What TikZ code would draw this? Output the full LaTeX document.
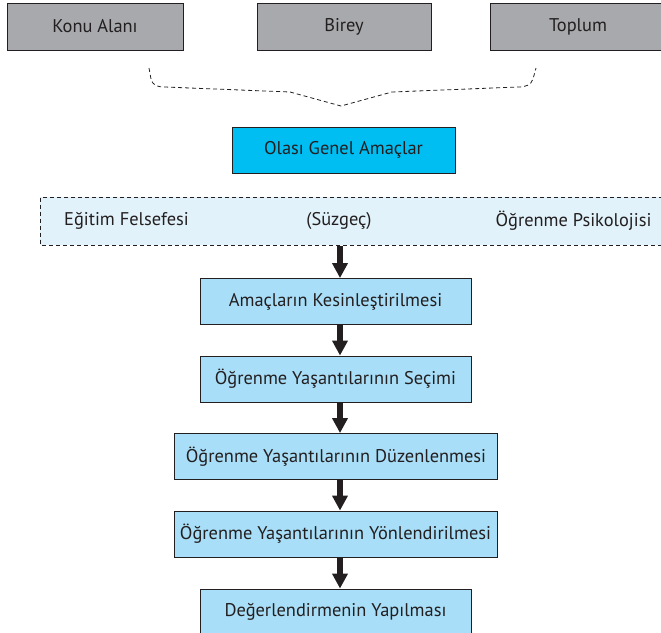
\documentclass[tikz,border=0pt]{standalone}
\usepackage{fontspec}
\setmainfont{PT Sans}
\usetikzlibrary{arrows.meta}
\definecolor{ink}{HTML}{231F20}
\definecolor{greybox}{HTML}{A7A9AC}
\definecolor{aimbox}{HTML}{00BDF2}
\definecolor{stepfill}{HTML}{A8DEF7}
\definecolor{bandfill}{HTML}{E1F2FA}
\tikzset{
  base/.style={draw=ink, line width=0.9pt, text=ink, font=\fontsize{18.4}{22}\selectfont,
    inner sep=0pt, anchor=center},
  source/.style={base, fill=greybox, minimum height=47pt},
  aim/.style={base, fill=aimbox, minimum width=223pt, minimum height=46pt},
  stagebox/.style={base, fill=stepfill, minimum height=46pt},
  bandtext/.style={text=ink, font=\fontsize{18.4}{22}\selectfont, inner sep=0pt},
  flow/.style={draw=ink, line width=5.5pt, -{Triangle[width=15pt,length=15pt]}},
  bracedash/.style={draw=ink, line width=0.8pt, dash pattern=on 4pt off 3pt}
}
\begin{document}
\begin{tikzpicture}[x=1pt, y=-1pt]
\useasboundingbox (0,0) rectangle (661,632);

% sources
\node[source, minimum width=176pt] (konu) at (95,26.5) {Konu Alanı};
\node[source, minimum width=174pt] (birey) at (344,26.5) {Birey};
\node[source, minimum width=176pt] (toplum) at (578,26.5) {Toplum};

% dashed brace gathering the sources
\coordinate (bl) at (149,68);
\coordinate (br) at (536,68);
\coordinate (tip) at (341,106);
\draw[bracedash] (bl) -- (151,79) .. controls (153,86) and (158,87) .. (165,87)
  -- (290,92) -- (tip) -- (392,92) -- (518,87)
  .. controls (526,87) and (531,85) .. (533,79) -- (br);

% general aims
\node[aim] (olasi) at (343.5,150) {Olası Genel Amaçlar};

% filter band
\fill[bandfill] (40,197) rectangle (670,245);
\draw[bracedash] (670,197) -- (40.5,197) -- (40.5,245) -- (670,245);
\node[bandtext] (felsefe) at (126.5,221) {Eğitim Felsefesi};
\node[bandtext] (suzgec) at (339,221) {(Süzgeç)};
\node[bandtext] (psikoloji) at (573.5,221) {Öğrenme Psikolojisi};
\coordinate (bandbottom) at (340,246);

% stages
\node[stagebox, minimum width=271pt] (s1) at (335.5,301.5) {Amaçların Kesinleştirilmesi};
\node[stagebox, minimum width=271pt] (s2) at (335.5,379) {Öğrenme Yaşantılarının Seçimi};
\node[stagebox, minimum width=323pt] (s3) at (336,456.5) {Öğrenme Yaşantılarının Düzenlenmesi};
\node[stagebox, minimum width=323pt] (s4) at (335.5,534) {Öğrenme Yaşantılarının Yönlendirilmesi};
\node[stagebox, minimum width=271pt] (s5) at (335.5,612) {Değerlendirmenin Yapılması};

% flow arrows
\draw[flow] (bandbottom) -- (s1.north -| bandbottom);
\draw[flow] (s1.south -| bandbottom) -- (s2.north -| bandbottom);
\draw[flow] (s2.south -| bandbottom) -- (s3.north -| bandbottom);
\draw[flow] (s3.south -| bandbottom) -- (s4.north -| bandbottom);
\draw[flow] (s4.south -| bandbottom) -- (s5.north -| bandbottom);
\end{tikzpicture}
\end{document}
